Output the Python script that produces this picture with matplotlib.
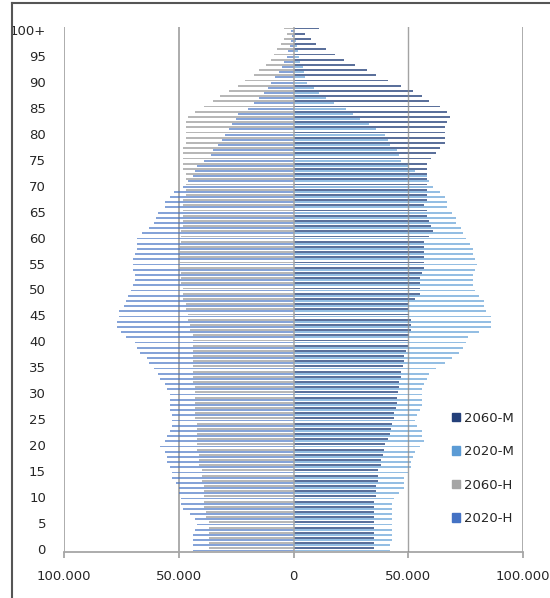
import numpy as np
import matplotlib.pyplot as plt
from matplotlib.patches import Patch
from matplotlib.lines import Line2D

# ages 0..100 (100 = "100+"), population in persons
ages = np.arange(0, 101)

# 2020 men (H)
h_2020 = [44, 44, 44, 44, 43, 42, 43, 45, 48, 49,
          49, 50, 50, 51, 53, 53, 54, 55, 55, 56,
          58, 56, 55, 54, 53, 53, 53, 54, 54, 54,
          54, 55, 56, 58, 59, 61, 63, 64, 67, 68,
          69, 73, 75, 77, 77, 76, 76, 74, 73, 72,
          71, 70, 69, 69, 70, 70, 70, 69, 68, 68,
          68, 66, 63, 61, 60, 59, 56, 56, 54, 52,
          48, 46, 44, 43, 42, 39, 36, 35, 33, 31,
          30, 28, 27, 25, 24, 20, 17, 15, 13, 11,
          10, 8, 6.5, 5, 4, 3, 2.2, 1.5, 1, 0.6,
          1]

# 2060 men (H)
h_2060 = [37, 37, 37, 37, 37, 37, 38, 38, 39, 39,
          39, 39, 39, 40, 40, 40, 41, 41, 41, 42,
          42, 42, 42, 42, 42, 43, 43, 43, 43, 43,
          43, 43, 44, 44, 44, 44, 44, 44, 44, 44,
          44, 44, 45, 45, 46, 46, 47, 47, 48, 48,
          48, 49, 49, 49, 50, 50, 50, 50, 50, 49,
          49, 49, 48, 48, 48, 48, 48, 48, 47, 47,
          47, 47, 47, 48, 48, 48, 48, 48, 47, 47,
          47, 47, 47, 46, 43, 39, 35, 32, 28, 24,
          21, 17, 15, 12, 10, 8.5, 7, 5.5, 4, 3,
          4]

# 2020 women (M)
m_2020 = [42, 42, 43, 43, 43, 43, 43, 43, 43, 43,
          44, 46, 48, 48, 48, 50, 51, 51, 52, 53,
          55, 57, 56, 56, 54, 53, 54, 55, 56, 56,
          56, 56, 57, 58, 59, 62, 66, 69, 72, 74,
          75, 76, 81, 86, 86, 86, 84, 83, 83, 81,
          79, 78, 78, 78, 79, 80, 79, 78, 78, 77,
          75, 74, 73, 71, 71, 69, 67, 67, 66, 64,
          61, 59, 58, 53, 50, 47, 46, 45, 42, 41,
          40, 36, 33, 29, 26, 23, 17.5, 14, 11, 9,
          6, 5, 4.5, 4, 3, 2.5, 2, 1.5, 1, 0.7,
          0.5]

# 2060 women (M)
m_2060 = [35, 35, 35, 35, 35, 35, 35, 35, 35, 35,
          36, 36, 36, 36.7, 37, 37, 38, 38, 39, 39.6,
          40, 41, 42, 42.5, 43, 44, 44, 44.6, 45, 45,
          45.6, 46, 46, 47, 47, 47.5, 48, 48, 49, 50,
          50, 50.5, 51, 51, 51, 50.5, 50, 49.7, 53, 55,
          55, 55, 55, 56, 57, 57, 57, 57, 57, 57,
          59, 61, 60, 59, 58, 58, 57, 58, 58, 58,
          58, 58, 58, 58, 58, 60, 62, 64, 66, 66,
          66, 66, 67, 68, 67, 64, 59, 56, 52, 47,
          41, 36, 32, 27, 22, 18, 14, 10, 7.7, 5,
          11]

h_2020 = -np.array(h_2020) * 1000
h_2060 = -np.array(h_2060) * 1000
m_2020 = np.array(m_2020) * 1000
m_2060 = np.array(m_2060) * 1000

col_h20 = '#4472C4'
col_h60 = '#A5A5A5'
col_m20 = '#5B9BD5'
col_m60 = '#24407A'

fig = plt.figure(figsize=(5.5, 5.98), dpi=100)
ax = fig.add_axes([64 / 550, 1 - 552 / 598, 459 / 550, 525 / 598])

bh = 0.36
off = 0.2
ax.barh(ages - off, h_2020, height=bh, color=col_h20, alpha=0.65, lw=0, zorder=2)
ax.barh(ages + off, h_2060, height=bh, color=col_h60, alpha=0.8, lw=0, zorder=2)
ax.barh(ages - off, m_2020, height=bh, color=col_m20, alpha=0.65, lw=0, zorder=2)
ax.barh(ages + off, m_2060, height=bh, color=col_m60, alpha=0.75, lw=0, zorder=2)

ax.set_xlim(-100000, 100000)
ax.set_ylim(-0.5, 100.5)

# gridlines
for x in [-100000, -50000, 100000]:
    ax.axvline(x, color='#A6A6A6', lw=1.3, zorder=1)
ax.axvline(50000, color='#8C8C8C', lw=1.0, zorder=3, alpha=0.8)
ax.axvline(0, color='#A6A6A6', lw=1.1, zorder=3)

for s in ['top', 'right', 'left']:
    ax.spines[s].set_visible(False)
ax.spines['bottom'].set_color('#A6A6A6')
ax.spines['bottom'].set_linewidth(1.3)

xt = [-100000, -50000, 0, 50000, 100000]
ax.set_xticks(xt)
ax.set_xticklabels(['100.000', '50.000', '0', '50.000', '100.000'], fontsize=9.5,
                   color='#262626')
ax.tick_params(axis='x', length=4, width=1.3, color='#A6A6A6', pad=9)

yt = list(range(0, 101, 5))
ax.set_yticks(yt)
ax.set_yticklabels([str(v) for v in yt[:-1]] + ['100+'], fontsize=9.5, color='#262626')
ax.tick_params(axis='y', length=0, pad=13)

handles = [Patch(color=col_m60, label='2060-M'),
           Patch(color=col_m20, label='2020-M'),
           Patch(color=col_h60, label='2060-H'),
           Patch(color=col_h20, label='2020-H')]
ax.legend(handles=handles, loc='upper left', bbox_to_anchor=(440 / 550, 1 - 400 / 598),
          bbox_transform=fig.transFigure, frameon=False, fontsize=9.5,
          labelcolor='#262626', handlelength=0.6, handleheight=0.6,
          handletextpad=0.3, labelspacing=1.55)

# outer frame (left and top edges)
fig.add_artist(Line2D([12 / 550, 12 / 550], [0, 1 - 3 / 598], color='#555555', lw=1.5))
fig.add_artist(Line2D([12 / 550, 1], [1 - 3 / 598, 1 - 3 / 598], color='#555555', lw=1.5))

fig.savefig('out.png', dpi=100)
